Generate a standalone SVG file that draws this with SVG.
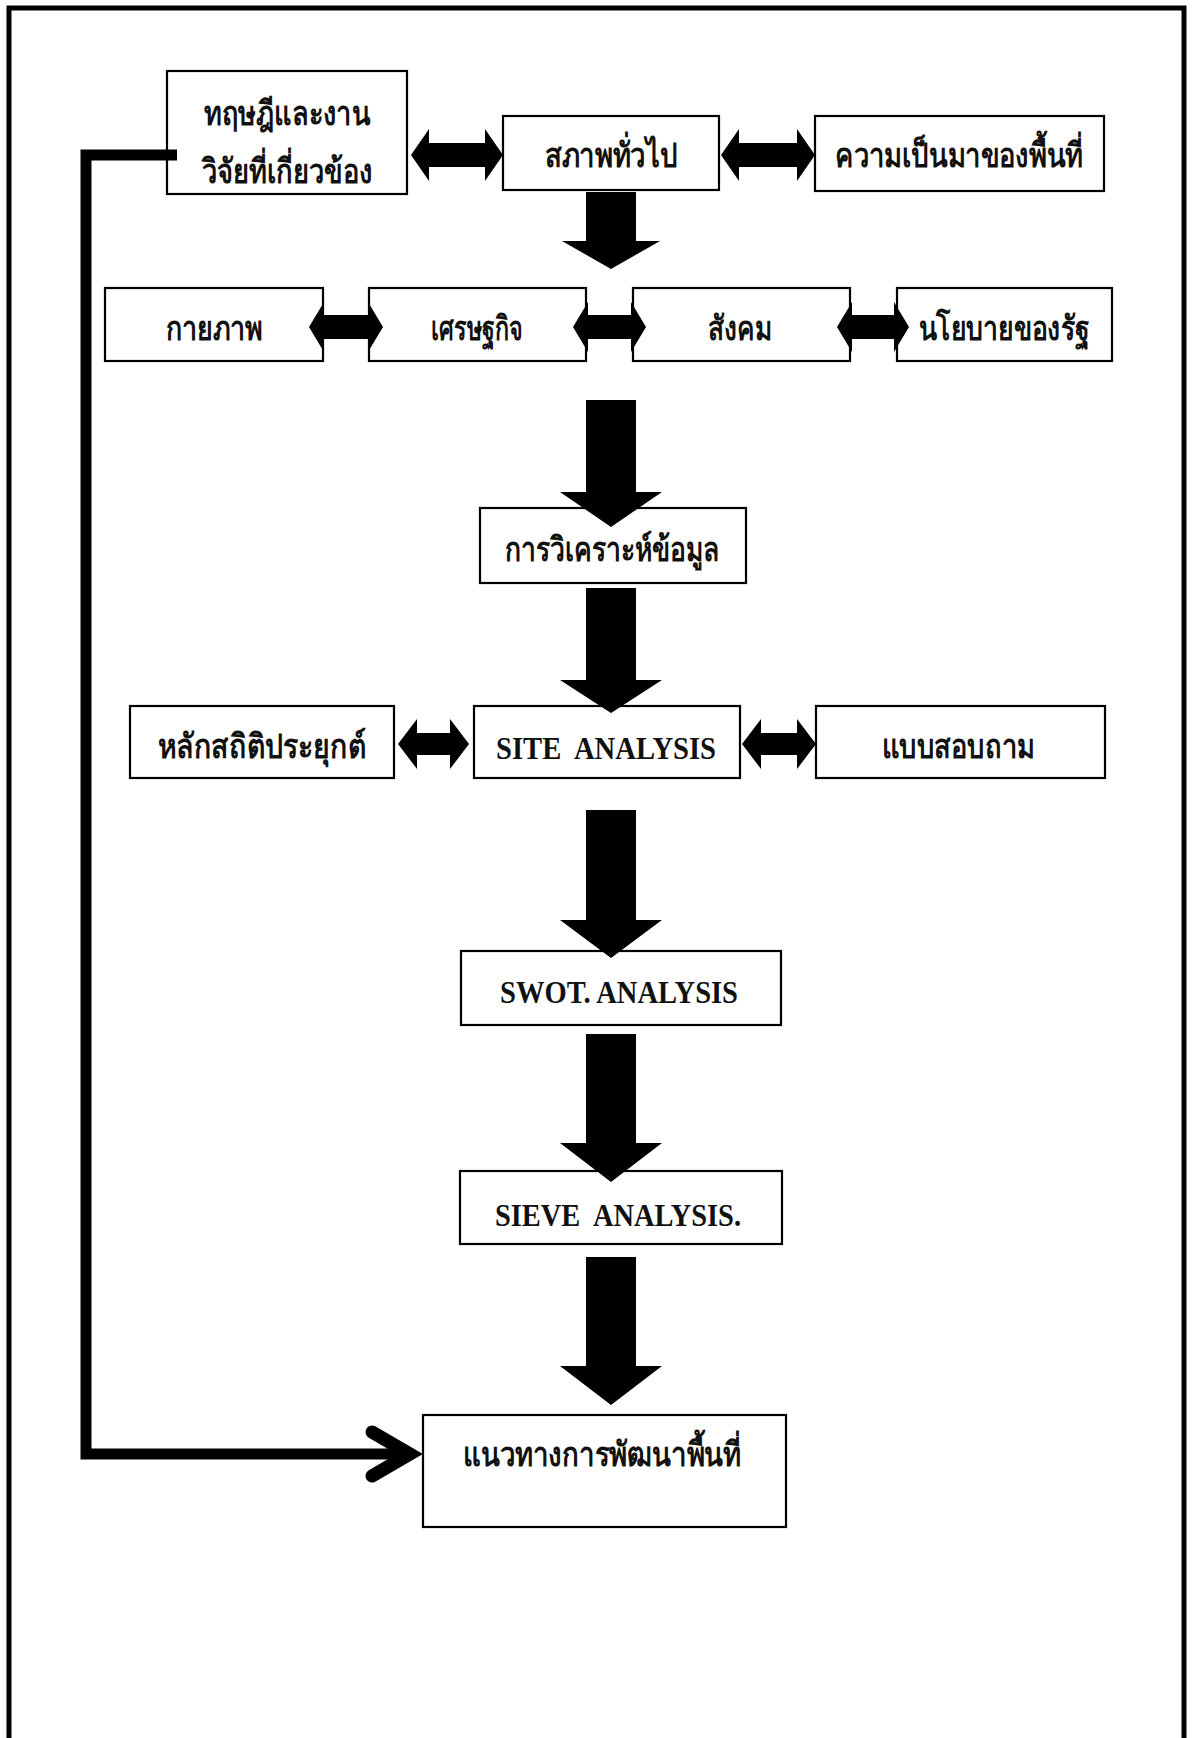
<svg xmlns="http://www.w3.org/2000/svg" width="1197" height="1738" viewBox="0 0 1197 1738">
<style>
.box{fill:#fff;stroke:#000;stroke-width:2.2}
.th{font-family:"Noto Sans","DejaVu Sans",sans-serif;font-weight:bold;font-size:34px;fill:#111;text-anchor:middle}
.en{font-family:"Liberation Serif","Times New Roman",serif;font-weight:bold;font-size:32px;fill:#111;text-anchor:middle}
.arr{fill:#000}
.line{fill:none;stroke:#000;stroke-width:11}
</style>
<rect width="1197" height="1738" fill="#fff"/>
<path d="M9,1738 V8 H1184 V1738" fill="none" stroke="#000" stroke-width="5"/>

<g id="n-theory"><rect class="box" x="167" y="71" width="240" height="123"/>
<text class="th" x="287" y="125" textLength="166" lengthAdjust="spacingAndGlyphs">ทฤษฎีและงาน</text>
<text class="th" x="287" y="183" textLength="171" lengthAdjust="spacingAndGlyphs">วิจัยที่เกี่ยวข้อง</text></g>
<g id="n-general"><rect class="box" x="503" y="116" width="216" height="74"/>
<text class="th" x="611" y="167" textLength="133" lengthAdjust="spacingAndGlyphs">สภาพทั่วไป</text></g>
<g id="n-history"><rect class="box" x="815" y="116" width="289" height="75"/>
<text class="th" x="959" y="167" textLength="248" lengthAdjust="spacingAndGlyphs">ความเป็นมาของพื้นที่</text></g>

<g id="n-physical"><rect class="box" x="105" y="288" width="218" height="73"/>
<text class="th" x="214" y="340" textLength="97" lengthAdjust="spacingAndGlyphs">กายภาพ</text></g>
<g id="n-economy"><rect class="box" x="369" y="288" width="217" height="73"/>
<text class="th" x="477" y="340" textLength="92" lengthAdjust="spacingAndGlyphs">เศรษฐกิจ</text></g>
<g id="n-social"><rect class="box" x="633" y="288" width="217" height="73"/>
<text class="th" x="740" y="340" textLength="64" lengthAdjust="spacingAndGlyphs">สังคม</text></g>
<g id="n-policy"><rect class="box" x="897" y="288" width="215" height="73"/>
<text class="th" x="1004" y="340" textLength="171" lengthAdjust="spacingAndGlyphs">นโยบายของรัฐ</text></g>

<g id="n-analysis"><rect class="box" x="480" y="508" width="266" height="75"/>
<text class="th" x="612" y="561" textLength="214" lengthAdjust="spacingAndGlyphs">การวิเคราะห์ข้อมูล</text></g>

<g id="n-stat"><rect class="box" x="130" y="706" width="264" height="72"/>
<text class="th" x="262" y="758" textLength="208" lengthAdjust="spacingAndGlyphs">หลักสถิติประยุกต์</text></g>
<g id="n-site"><rect class="box" x="474" y="706" width="266" height="72"/>
<text class="en" x="606" y="759" textLength="220" lengthAdjust="spacingAndGlyphs">SITE&#160; ANALYSIS</text></g>
<g id="n-survey"><rect class="box" x="816" y="706" width="289" height="72"/>
<text class="th" x="958" y="758" textLength="153" lengthAdjust="spacingAndGlyphs">แบบสอบถาม</text></g>

<g id="n-swot"><rect class="box" x="461" y="951" width="320" height="74"/>
<text class="en" x="619" y="1003" textLength="238" lengthAdjust="spacingAndGlyphs">SWOT. ANALYSIS</text></g>
<g id="n-sieve"><rect class="box" x="460" y="1171" width="322" height="73"/>
<text class="en" x="618" y="1226" textLength="246" lengthAdjust="spacingAndGlyphs">SIEVE&#160; ANALYSIS.</text></g>
<g id="n-dev"><rect class="box" x="423" y="1415" width="363" height="112"/>
<text class="th" x="602" y="1466" textLength="278" lengthAdjust="spacingAndGlyphs">แนวทางการพัฒนาพื้นที่</text></g>

<g id="connectors">
<polygon class="arr" points="411,155 429,129 429,143 485,143 485,129 503,155 485,181 485,167 429,167 429,181"/>
<polygon class="arr" points="721,155 739,129 739,143 797,143 797,129 815,155 797,181 797,167 739,167 739,181"/>
<polygon class="arr" points="309,327 324,302 324,315 368,315 368,302 383,327 368,352 368,339 324,339 324,352"/>
<polygon class="arr" points="573,327 588,302 588,315 631,315 631,302 646,327 631,352 631,339 588,339 588,352"/>
<polygon class="arr" points="837,327 852,302 852,315 894,315 894,302 909,327 894,352 894,339 852,339 852,352"/>
<polygon class="arr" points="398,744 417,719 417,733 450,733 450,719 469,744 450,769 450,755 417,755 417,769"/>
<polygon class="arr" points="742,744 761,719 761,733 797,733 797,719 816,744 797,769 797,755 761,755 761,769"/>
<polygon class="arr" points="586,192 636,192 636,241 660,241 611,269 562,241 586,241"/>
<polygon class="arr" points="586,400 636,400 636,492 662,492 611,527 560,492 586,492"/>
<polygon class="arr" points="586,588 636,588 636,680 662,680 611,713 560,680 586,680"/>
<polygon class="arr" points="586,810 636,810 636,920 662,920 611,958 560,920 586,920"/>
<polygon class="arr" points="586,1034 636,1034 636,1143 662,1143 611,1182 560,1143 586,1143"/>
<polygon class="arr" points="586,1257 636,1257 636,1366 662,1366 611,1405 560,1366 586,1366"/>
<path class="line" d="M177,155 H86 V1454 H412" stroke-linejoin="miter"/>
<polyline points="372,1432 410,1454 372,1476" fill="none" stroke="#000" stroke-width="13" stroke-linecap="round" stroke-linejoin="miter"/>
</g>
</svg>
